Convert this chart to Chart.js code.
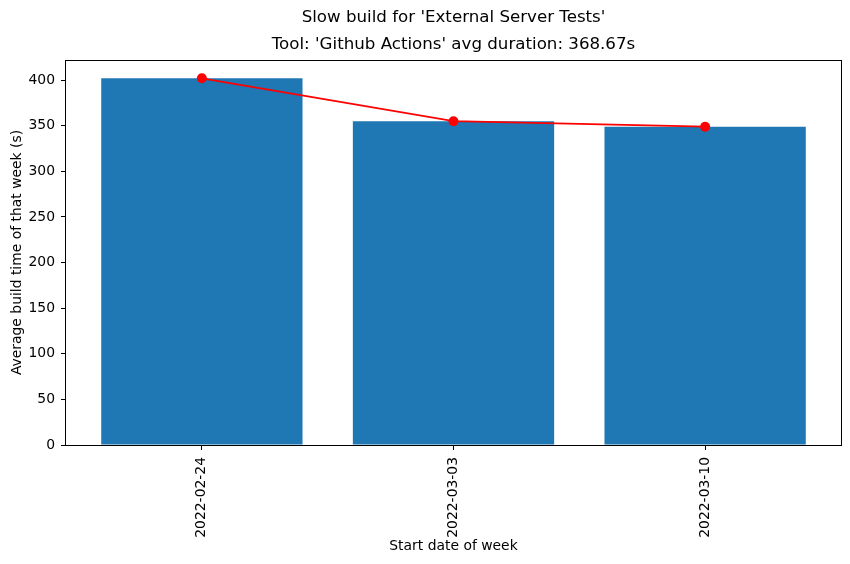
<!DOCTYPE html>
<html>
<head>
<meta charset="utf-8">
<script src="https://cdn.jsdelivr.net/npm/chart.js@4/dist/chart.umd.min.js"></script>
<style>
html,body{margin:0;padding:0;background:#fff;}
#wrap{width:850px;height:564px;}
</style>
</head>
<body>
<div id="wrap"><canvas id="c" width="850" height="564"></canvas></div>
<script>
const weeks = ['2022-02-24', '2022-03-03', '2022-03-10'];
const avgDurations = [402, 355, 349];
const yTicks = [0, 50, 100, 150, 200, 250, 300, 350, 400];
const suptitle = "Slow build for 'External Server Tests'";
const subtitle = "Tool: 'Github Actions' avg duration: 368.67s";
const xTitle = 'Start date of week';
const yTitle = 'Average build time of that week (s)';

const FONT = "'DejaVu Sans', sans-serif";
const TICK = 13.9;
const TITLE = 16.67;
const points = weeks.map((w, i) => ({x: i, y: avgDurations[i]}));

const framePlugin = {
  id: 'frame',
  afterDraw(chart) {
    const {ctx, chartArea: a} = chart;
    ctx.save();
    ctx.strokeStyle = '#000';
    ctx.lineWidth = 1;
    const l = Math.round(a.left) - 0.5, t = Math.round(a.top) + 0.5;
    const r = Math.round(a.right) + 0.5, b = Math.round(a.bottom) + 0.5;
    ctx.strokeRect(l, t, r - l, b - t);
    const cx = (a.left + a.right) / 2;
    ctx.fillStyle = '#000';
    ctx.textAlign = 'center';
    ctx.textBaseline = 'middle';
    ctx.font = TITLE + 'px ' + FONT;
    ctx.fillText(suptitle, cx, 18);
    ctx.fillText(subtitle, cx, 45);
    ctx.restore();
  }
};

new Chart(document.getElementById('c'), {
  data: {
    datasets: [
      {
        type: 'line',
        data: points,
        borderColor: '#ff0000',
        backgroundColor: '#ff0000',
        borderWidth: 1.8,
        pointRadius: 5,
        pointBorderWidth: 0,
        pointBackgroundColor: '#ff0000',
        order: 0
      },
      {
        type: 'bar',
        data: points,
        backgroundColor: '#1f77b4',
        borderWidth: 0,
        inflateAmount: 0,
        categoryPercentage: 1,
        barPercentage: 0.8,
        order: 1
      }
    ]
  },
  options: {
    responsive: false,
    animation: false,
    layout: {padding: {top: 60, right: 9, left: 0, bottom: 0}},
    plugins: {legend: {display: false}, tooltip: {enabled: false}, title: {display: false}},
    scales: {
      x: {
        type: 'linear',
        min: -0.54,
        max: 2.54,
        offset: false,
        afterBuildTicks(scale) { scale.ticks = weeks.map((w, i) => ({value: i})); },
        afterFit(scale) { scale.height = 119; },
        ticks: {
          callback: (v) => weeks[v],
          minRotation: 90,
          maxRotation: 90,
          autoSkip: false,
          padding: 7,
          color: '#000',
          font: {family: FONT, size: TICK}
        },
        grid: {offset: false, drawOnChartArea: false, drawTicks: true, tickLength: 5, color: '#000', tickWidth: 1},
        border: {display: false},
        title: {display: true, text: xTitle, color: '#000', font: {family: FONT, size: TICK}, padding: {top: 0, bottom: 9}}
      },
      y: {
        type: 'linear',
        min: 0,
        max: 422.1,
        afterBuildTicks(scale) { scale.ticks = yTicks.map(v => ({value: v})); },
        afterFit(scale) { scale.width = 66; },
        ticks: {
          padding: 6,
          color: '#000',
          font: {family: FONT, size: TICK}
        },
        grid: {offset: false, drawOnChartArea: false, drawTicks: true, tickLength: 5, color: '#000', tickWidth: 1},
        border: {display: false},
        title: {display: true, text: yTitle, color: '#000', font: {family: FONT, size: TICK}, padding: {top: 9, bottom: 0}}
      }
    }
  },
  plugins: [framePlugin]
});
</script>
</body>
</html>
